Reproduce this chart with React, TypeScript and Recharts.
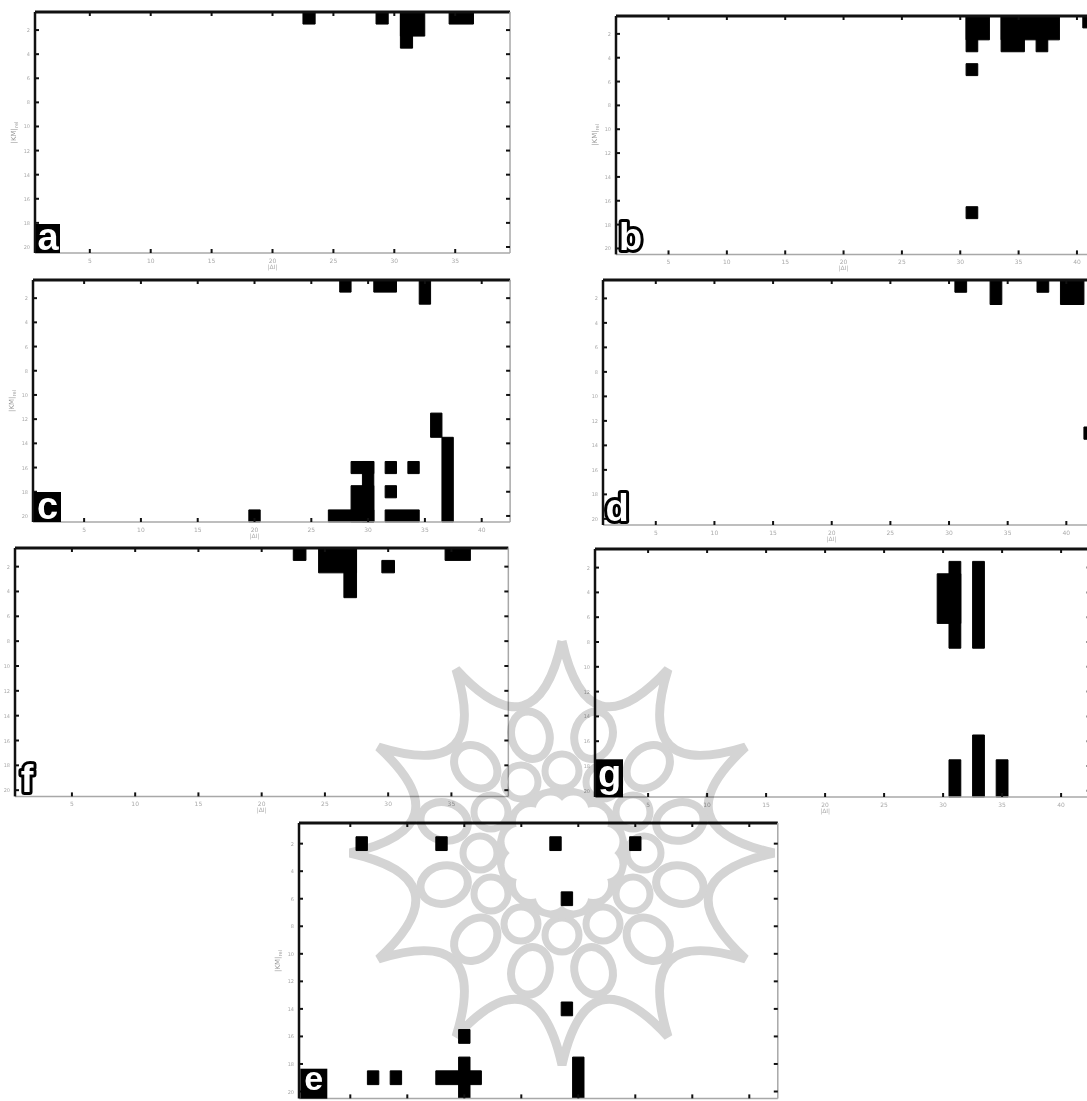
import React from "react";
import { ComposedChart, XAxis, YAxis, ReferenceArea, Scatter } from "recharts";

// filled blocks of the maps: [firstCol, lastCol, firstRow, lastRow] (blocks may overlap)
const CELLS_A = [[23, 23, 1, 1], [29, 29, 1, 1], [31, 32, 1, 2], [31, 31, 1, 3], [35, 36, 1, 1]];
const CELLS_B = [
  [31, 32, 1, 2], [31, 31, 1, 3], [31, 31, 5, 5], [31, 31, 17, 17],
  [34, 38, 1, 2], [34, 35, 1, 3], [37, 37, 1, 3], [41, 41, 1, 1],
];
const CELLS_C = [
  [20, 20, 20, 20], [27, 30, 20, 20], [28, 28, 1, 1], [29, 30, 16, 16], [30, 30, 16, 20],
  [29, 30, 18, 20], [31, 32, 1, 1], [32, 32, 16, 16], [32, 32, 18, 18], [32, 34, 20, 20],
  [34, 34, 16, 16], [35, 35, 1, 2], [36, 36, 12, 13], [37, 37, 14, 20],
];
const CELLS_D = [[31, 31, 1, 1], [34, 34, 1, 2], [38, 38, 1, 1], [40, 41, 1, 2], [42, 42, 13, 13]];
const CELLS_E = [
  [6, 6, 2, 2], [7, 7, 19, 19], [9, 9, 19, 19], [13, 13, 2, 2], [13, 16, 19, 19],
  [15, 15, 18, 20], [15, 15, 16, 16], [23, 23, 2, 2], [24, 24, 6, 6], [24, 24, 14, 14],
  [25, 25, 18, 20], [30, 30, 2, 2],
];
const CELLS_F = [[23, 23, 1, 1], [25, 27, 1, 2], [27, 27, 1, 4], [30, 30, 2, 2], [35, 36, 1, 1]];
const CELLS_G = [[30, 31, 3, 6], [31, 31, 2, 8], [31, 31, 18, 20], [33, 33, 2, 8], [33, 33, 16, 20], [35, 35, 18, 20]];

const X_TICKS_SHORT = [5, 10, 15, 20, 25, 30, 35];
const X_TICKS_LONG = [5, 10, 15, 20, 25, 30, 35, 40];
const Y_TICKS = [2, 4, 6, 8, 10, 12, 14, 16, 18, 20];
const ROWS = 20;

// axis space around each plot
const L = 30, R = 6, T = 6, B = 24;

const PANELS = [
  { id: "a", cells: CELLS_A, cols: 39, left: 35, top: 12, cw: 12.18, ch: 12.05, xTicks: X_TICKS_SHORT, yLabel: true, xLabels: true, box: true, bw: 24, bh: 29, lift: 3 },
  { id: "b", cells: CELLS_B, cols: 42, left: 616, top: 15.7, cw: 11.67, ch: 11.92, xTicks: X_TICKS_LONG, yLabel: true, xLabels: true, box: false, bw: 27, bh: 37, lift: 4 },
  { id: "c", cells: CELLS_C, cols: 42, left: 33, top: 280, cw: 11.36, ch: 12.1, xTicks: X_TICKS_LONG, yLabel: true, xLabels: true, box: true, bw: 27, bh: 30, lift: 3 },
  { id: "d", cells: CELLS_D, cols: 42, left: 602.7, top: 280, cw: 11.73, ch: 12.25, xTicks: X_TICKS_LONG, yLabel: false, xLabels: true, box: false, bw: 27, bh: 37, lift: 4 },
  { id: "f", cells: CELLS_F, cols: 39, left: 15, top: 547.7, cw: 12.65, ch: 12.42, xTicks: X_TICKS_SHORT, yLabel: false, xLabels: true, box: false, bw: 22, bh: 38, lift: 4 },
  { id: "g", cells: CELLS_G, cols: 42, left: 595, top: 549.3, cw: 11.8, ch: 12.4, xTicks: X_TICKS_LONG, yLabel: false, xLabels: true, box: true, bw: 27, bh: 38, lift: 10 },
  { id: "e", cells: CELLS_E, cols: 42, left: 299.3, top: 823.3, cw: 11.4, ch: 13.77, xTicks: X_TICKS_LONG, yLabel: true, xLabels: false, box: true, bw: 27, bh: 30, lift: 9 },
];

const DARK = "#111";

const makeBottomTick = (withLabel: boolean) => (props: any) => {
  const { x, y, payload } = props;
  return (
    <g>
      <line x1={x} x2={x} y1={y} y2={y - 4} stroke={DARK} strokeWidth={2} />
      {withLabel && (
        <text x={x} y={y + 10} fontSize={6} fill="#aaa" textAnchor="middle" fontFamily="DejaVu Sans">
          {payload.value}
        </text>
      )}
    </g>
  );
};
const TopTick = (props: any) => {
  const { x, y } = props;
  return <line x1={x} x2={x} y1={y} y2={y + 4} stroke={DARK} strokeWidth={2} />;
};
const LeftTick = (props: any) => {
  const { x, y, payload } = props;
  return (
    <g>
      <line x1={x} x2={x + 4} y1={y} y2={y} stroke={DARK} strokeWidth={2} />
      <text x={x - 5} y={y + 2} fontSize={5} fill="#aaa" textAnchor="end" fontFamily="DejaVu Sans">
        {payload.value}
      </text>
    </g>
  );
};
const RightTick = (props: any) => {
  const { x, y } = props;
  return <line x1={x} x2={x - 4} y1={y} y2={y} stroke={DARK} strokeWidth={2} />;
};

function Panel({ p }: { p: any }) {
  const plotW = p.cols * p.cw;
  const plotH = ROWS * p.ch;
  const points = p.cells.map(([c1, c2, r1, r2]: number[]) => ({ x: (c1 + c2) / 2, y: (r1 + r2) / 2 }));
  const xDomain = [0.5, p.cols + 0.5];
  const yDomain = [0.5, ROWS + 0.5];
  return (
    <div style={{ position: "absolute", left: p.left - L, top: p.top - T }}>
      <ComposedChart
        width={plotW + L + R}
        height={plotH + T + B}
        margin={{ top: 0, right: 0, bottom: 0, left: 0 }}
        data={points}
      >
        <XAxis xAxisId="b" type="number" dataKey="x" domain={xDomain} allowDataOverflow ticks={p.xTicks} interval={0}
          height={B} orientation="bottom" tickSize={0} tickMargin={0} tickLine={false}
          axisLine={{ stroke: "#a8a8a8", strokeWidth: 1.5 }} tick={makeBottomTick(p.xLabels)} />
        <XAxis xAxisId="t" type="number" dataKey="x" domain={xDomain} allowDataOverflow ticks={p.xTicks} interval={0}
          height={T} orientation="top" tickSize={0} tickMargin={0} tickLine={false}
          axisLine={{ stroke: DARK, strokeWidth: 3 }} tick={TopTick} />
        <YAxis yAxisId="l" type="number" dataKey="y" domain={yDomain} allowDataOverflow reversed ticks={Y_TICKS} interval={0}
          width={L} orientation="left" tickSize={0} tickMargin={0} tickLine={false}
          axisLine={{ stroke: DARK, strokeWidth: 2.5 }} tick={LeftTick} />
        <YAxis yAxisId="r" type="number" dataKey="y" domain={yDomain} allowDataOverflow reversed ticks={Y_TICKS} interval={0}
          width={R} orientation="right" tickSize={0} tickMargin={0} tickLine={false}
          axisLine={{ stroke: "#a8a8a8", strokeWidth: 1.5 }} tick={RightTick} />
        {p.cells.map(([c1, c2, r1, r2]: number[], i: number) => (
          <ReferenceArea key={i} xAxisId="b" yAxisId="l" x1={c1 - 0.5} x2={c2 + 0.5} y1={r1 - 0.5} y2={r2 + 0.5}
            fill="#000" fillOpacity={1} stroke="#000" strokeWidth={1} ifOverflow="visible" />
        ))}
        <Scatter xAxisId="b" yAxisId="l" dataKey="y" shape={() => <g />} isAnimationActive={false} />
        <Scatter xAxisId="t" yAxisId="r" dataKey="y" shape={() => <g />} isAnimationActive={false} />
      </ComposedChart>
    </div>
  );
}

function Labels() {
  return (
    <svg width={1087} height={1101} style={{ position: "absolute", left: 0, top: 0, pointerEvents: "none" }}>
      {PANELS.map((p) => {
        const plotH = ROWS * p.ch;
        const bottom = p.top + plotH;
        const midY = p.top + plotH / 2;
        const bx = p.left + 1;
        const by = bottom - p.bh;
        const xMid = p.left + (20 - 0.5) * p.cw;
        return (
          <g key={p.id}>
            {p.yLabel && (
              <text x={p.left - 19} y={midY} fontSize={7} fill="#999" textAnchor="middle"
                transform={`rotate(-90 ${p.left - 19} ${midY})`} fontFamily="DejaVu Sans">
                |KM|<tspan fontSize={5} dy={2}>rel</tspan>
              </text>
            )}
            {p.xLabels && (
              <text x={xMid} y={bottom + 16} fontSize={6} fill="#aaa" textAnchor="middle" fontFamily="DejaVu Sans">
                |ΔI|
              </text>
            )}
            {p.box && <rect x={bx} y={by} width={p.bw} height={p.bh} fill="#000" />}
            <text x={bx + p.bw / 2} y={bottom - p.lift} fontSize={p.id === "e" ? 34 : 38} fontWeight="bold"
              fontFamily="Liberation Sans" textAnchor="middle" fill="#fff" stroke="#000"
              strokeWidth={p.box ? 0 : 6} strokeLinejoin="round" style={{ paintOrder: "stroke" }}>
              {p.id}
            </text>
          </g>
        );
      })}
    </svg>
  );
}

function Watermark() {
  const cx = 562, cy = 853;
  const R0 = 212;
  const rad = (d: number) => (d * Math.PI) / 180;
  const pt = (r: number, a: number) => `${cx + r * Math.cos(rad(a))} ${cy + r * Math.sin(rad(a))}`;
  const spikes = Array.from({ length: 12 }, (_, k) => -90 + 30 * k);
  let star = `M ${pt(R0, spikes[0])}`;
  spikes.forEach((a) => {
    star += ` Q ${pt(100, a + 15)} ${pt(R0, a + 30)}`;
  });
  const grey = "#d4d4d4";
  return (
    <svg width={1087} height={1101}
      style={{ position: "absolute", left: 0, top: 0, pointerEvents: "none", mixBlendMode: "multiply" }}>
      <path d={star} fill="none" stroke={grey} strokeWidth={9} />
      {spikes.map((a) => {
        const m = a + 15;
        const x = cx + 122 * Math.cos(rad(m));
        const y = cy + 122 * Math.sin(rad(m));
        return (
          <ellipse key={`o${a}`} cx={x} cy={y} rx={24} ry={19} fill="none" stroke={grey} strokeWidth={8}
            transform={`rotate(${m} ${x} ${y})`} />
        );
      })}
      {spikes.map((a) => {
        const x = cx + 82 * Math.cos(rad(a));
        const y = cy + 82 * Math.sin(rad(a));
        return <circle key={`i${a}`} cx={x} cy={y} r={17} fill="none" stroke={grey} strokeWidth={7} />;
      })}
      <circle cx={cx} cy={cy} r={66} fill={grey} />
      {spikes.map((a) => {
        const x = cx + 44 * Math.cos(rad(a + 15));
        const y = cy + 44 * Math.sin(rad(a + 15));
        return <circle key={`p${a}`} cx={x} cy={y} r={15} fill="#fff" />;
      })}
      <circle cx={cx} cy={cy} r={40} fill="#fff" />
    </svg>
  );
}

export default function App() {
  return (
    <div style={{ position: "absolute", left: 0, top: 0, width: 1087, height: 1101, overflow: "hidden", background: "#fff" }}>
      {PANELS.map((p) => (
        <Panel key={p.id} p={p} />
      ))}
      <Watermark />
      <Labels />
    </div>
  );
}
